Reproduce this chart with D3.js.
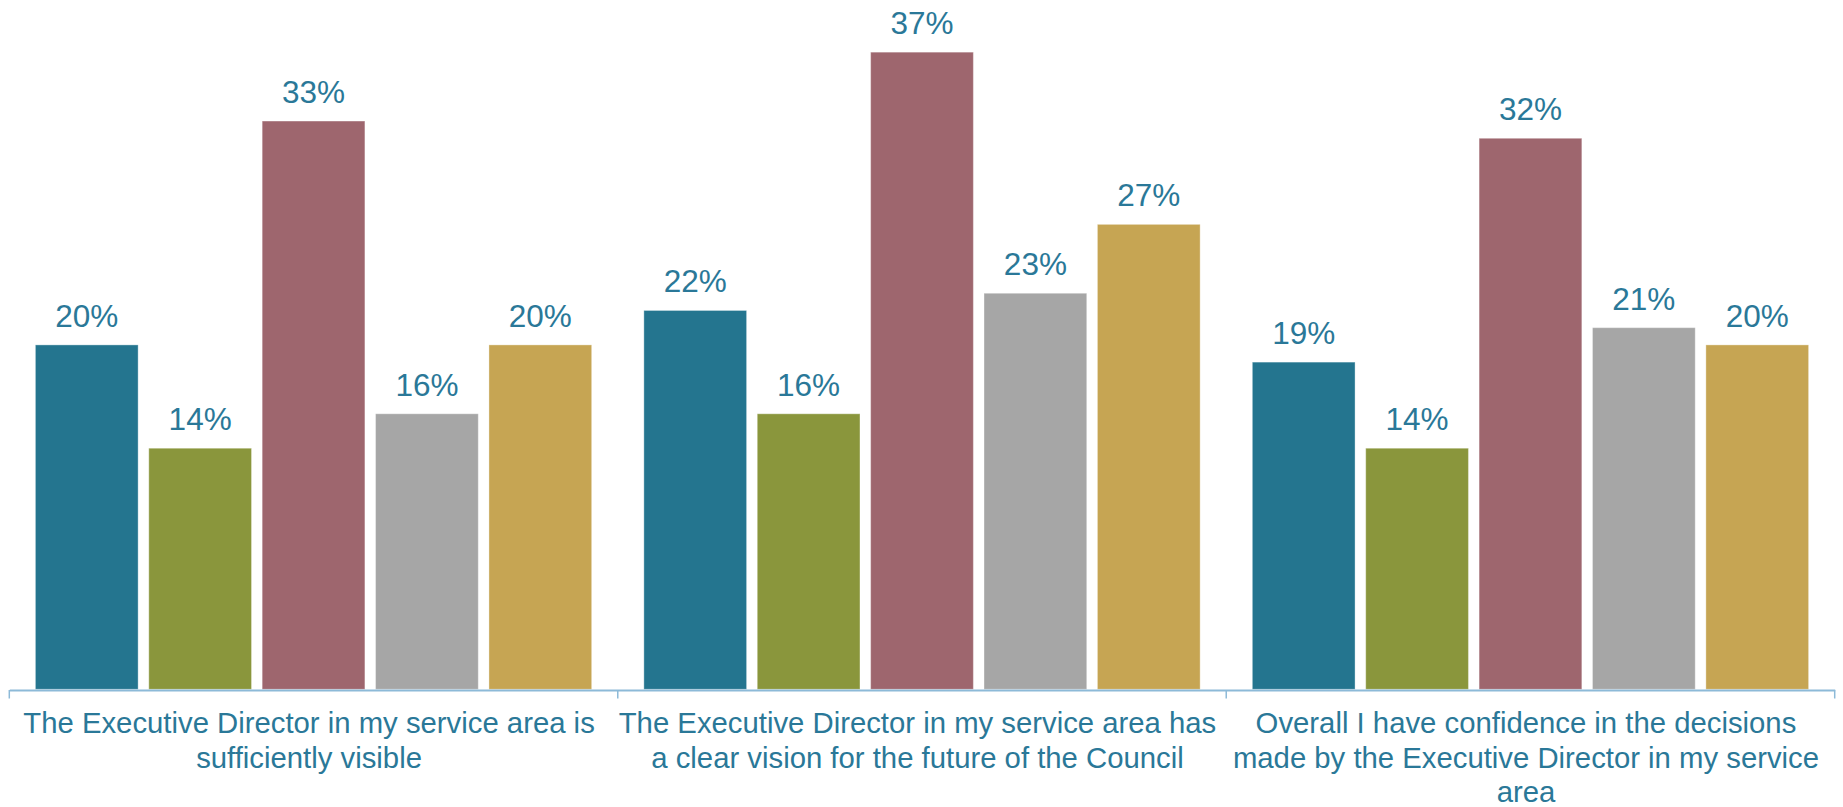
<!DOCTYPE html>
<html>
<head>
<meta charset="utf-8">
<script src="https://cdn.jsdelivr.net/npm/d3@7"></script>
<style>
  html, body { margin: 0; padding: 0; background: #ffffff; }
  svg { display: block; }
  text { font-family: "Liberation Sans", Arial, sans-serif; }
</style>
</head>
<body>
<div id="chart"></div>
<script>
// Survey statements shown along the x axis (each entry is one wrapped line)
const categories = [
  "The Executive Director in my service area is sufficiently visible",
  "The Executive Director in my service area has a clear vision for the future of the Council",
  "Overall I have confidence in the decisions made by the Executive Director in my service area"
];
const categoryLines = [
  ["The Executive Director in my service area is", "sufficiently visible"],
  ["The Executive Director in my service area has", "a clear vision for the future of the Council"],
  ["Overall I have confidence in the decisions", "made by the Executive Director in my service", "area"]
];

// Five response groups per statement, in percent
const seriesNames = ["s1", "s2", "s3", "s4", "s5"];
const series1 = [20, 22, 19];
const series2 = [14, 16, 14];
const series3 = [33, 37, 32];
const series4 = [16, 23, 21];
const series5 = [20, 27, 20];
const seriesColors = ["#24758f", "#8a963c", "#9e666e", "#a6a6a6", "#c6a553"];

const yMax = 40;

const width = 1843, height = 807;
const plot = { left: 9.3, right: 1834.7, top: 0.5, bottom: 689.3 };

const svg = d3.select("#chart").append("svg")
  .attr("width", width)
  .attr("height", height);

const x0 = d3.scaleBand()
  .domain(categories)
  .range([plot.left, plot.right])
  .paddingInner(0)
  .paddingOuter(0);

const groupPad = 26.1;
const x1 = d3.scaleBand()
  .domain(seriesNames)
  .range([groupPad, x0.bandwidth() - groupPad])
  .paddingInner(0.094)
  .paddingOuter(0);

const y = d3.scaleLinear()
  .domain([0, yMax])
  .range([plot.bottom, plot.top]);

const allSeries = [series1, series2, series3, series4, series5];
const rows = categories.map((c, i) => ({
  category: c,
  values: seriesNames.map((s, j) => ({ key: s, value: allSeries[j][i], color: seriesColors[j] }))
}));

const groups = svg.append("g").selectAll("g")
  .data(rows)
  .join("g")
  .attr("transform", d => `translate(${x0(d.category)},0)`);

groups.selectAll("rect")
  .data(d => d.values)
  .join("rect")
  .attr("x", d => x1(d.key))
  .attr("y", d => y(d.value))
  .attr("width", x1.bandwidth())
  .attr("height", d => y(0) - y(d.value))
  .attr("fill", d => d.color)
  .attr("stroke", "rgba(255,255,255,0.35)")
  .attr("stroke-width", 1);

groups.selectAll("text.value")
  .data(d => d.values)
  .join("text")
  .attr("class", "value")
  .attr("x", d => x1(d.key) + x1.bandwidth() / 2)
  .attr("y", d => y(d.value) - 18)
  .attr("text-anchor", "middle")
  .attr("fill", "#2a7898")
  .attr("font-size", 31.5)
  .text(d => d.value + "%");

// Category axis with tick marks between the groups
const axisColor = "#8dbad8";
const xAxis = d3.axisBottom(x0)
  .tickSize(0)
  .tickFormat("");
const axisG = svg.append("g")
  .attr("transform", `translate(0,${plot.bottom + 0.7})`)
  .call(xAxis);
axisG.select(".domain")
  .attr("stroke", axisColor)
  .attr("stroke-width", 2);
axisG.selectAll(".tick").remove();

const boundaries = categories.map(c => x0(c)).concat([x0(categories[categories.length - 1]) + x0.bandwidth()]);
axisG.selectAll("line.sep")
  .data(boundaries)
  .join("line")
  .attr("class", "sep")
  .attr("x1", d => d)
  .attr("x2", d => d)
  .attr("y1", 0)
  .attr("y2", 8.5)
  .attr("stroke", axisColor)
  .attr("stroke-width", 1.5);

// Wrapped category labels
const labelG = svg.append("g");
labelG.selectAll("text")
  .data(categories)
  .join("text")
  .attr("text-anchor", "middle")
  .attr("fill", "#2a7898")
  .attr("font-size", 29.3)
  .attr("transform", d => `translate(${x0(d) + x0.bandwidth() / 2 - 4.5},733.3)`)
  .each(function (d, i) {
    d3.select(this).selectAll("tspan")
      .data(categoryLines[i])
      .join("tspan")
      .attr("x", 0)
      .attr("dy", (l, k) => k === 0 ? 0 : 34.4)
      .text(l => l);
  });
</script>
</body>
</html>
